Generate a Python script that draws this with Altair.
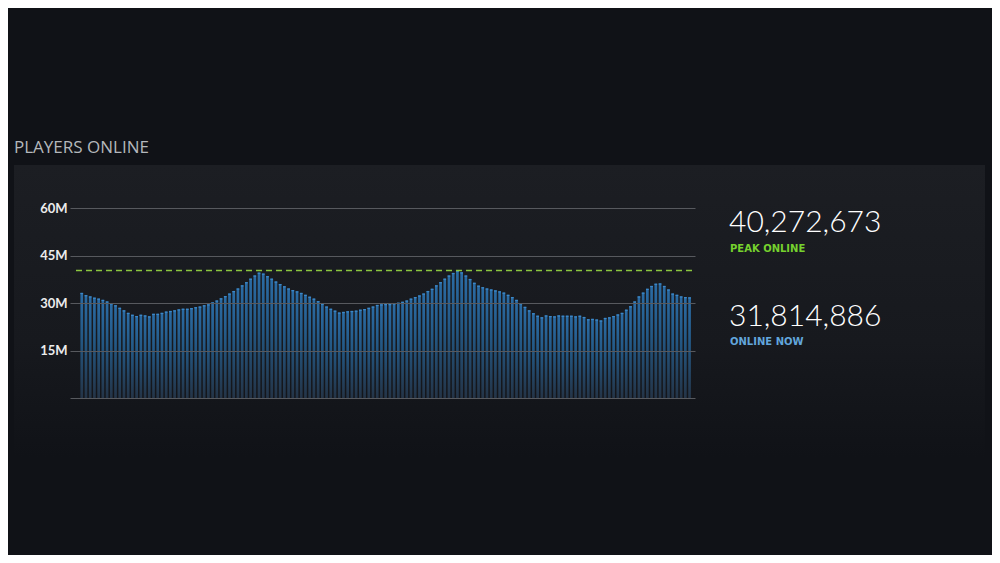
import altair as alt
import pandas as pd

# Players online, in millions, one bar per sample
players_m = [
    33.2, 32.5, 32.1, 31.7, 31.4, 31.0, 30.5, 29.9, 29.3, 28.5,
    27.7, 26.9, 26.3, 25.9, 26.3, 26.1, 25.8, 26.6, 26.6, 26.9,
    27.3, 27.5, 27.7, 28.0, 28.2, 28.2, 28.4, 28.7, 28.9, 29.3,
    29.6, 30.2, 30.8, 31.5, 32.2, 33.0, 33.8, 34.6, 35.6, 36.6,
    37.7, 38.7, 39.6, 39.3, 38.5, 37.7, 36.8, 36.0, 35.3, 34.6,
    34.1, 33.7, 33.2, 32.6, 32.0, 31.4, 30.6, 29.8, 28.9, 28.2,
    27.6, 27.0, 27.2, 27.4, 27.5, 27.6, 27.9, 28.1, 28.5, 28.9,
    29.4, 29.6, 29.7, 29.7, 29.9, 30.1, 30.4, 30.8, 31.4, 31.9,
    32.4, 33.0, 33.8, 34.5, 35.6, 36.6, 37.7, 38.7, 39.5, 40.2,
    39.7, 38.7, 37.6, 36.4, 35.5, 35.0, 34.6, 34.3, 34.0, 33.7,
    33.3, 32.6, 31.9, 31.0, 29.9, 28.8, 27.7, 26.8, 26.0, 25.5,
    26.1, 25.9, 25.8, 26.1, 26.0, 26.0, 26.0, 25.8, 26.0, 25.6,
    24.9, 25.0, 24.8, 24.5, 25.3, 25.5, 25.9, 26.4, 26.9, 27.9,
    29.0, 30.5, 32.1, 33.3, 34.5, 35.4, 36.1, 36.2, 35.4, 34.3,
    33.0, 32.6, 32.1, 31.9, 31.8,
]
peak_online = 40272673
online_now = 31814886
y_ticks = [0, 15, 30, 45, 60]
title_text = "PLAYERS ONLINE"
peak_label = "PEAK ONLINE"
now_label = "ONLINE NOW"

N = len(players_m)
df = pd.DataFrame({"i": list(range(N)), "players": players_m})

W, H = 625, 190
FONT = "Lato"
x_scale = alt.Scale(domain=[-1.6, N - 0.9], nice=False, zero=False)
y_scale = alt.Scale(domain=[0, 60], nice=False)

one = pd.DataFrame({"k": [0]})

panel = alt.Chart(one).mark_rect(
    color=alt.LinearGradient(
        gradient="linear", x1=0, y1=0, x2=0, y2=1,
        stops=[
            alt.GradientStop(color="#1c1e23", offset=0),
            alt.GradientStop(color="#17191e", offset=0.6),
            alt.GradientStop(color="#101217", offset=1),
        ],
    )
).encode(x=alt.value(-56), x2=alt.value(915), y=alt.value(-43), y2=alt.value(250))

bar_grad = alt.LinearGradient(
    gradient="linear", x1=0, y1=0, x2=0, y2=1,
    stops=[
        alt.GradientStop(color="#2b6ca5", offset=0),
        alt.GradientStop(color="#235783", offset=0.45),
        alt.GradientStop(color="#243447", offset=1),
    ],
)

bars = alt.Chart(df).mark_bar(width=2.7, color=bar_grad).encode(
    x=alt.X("i:Q", scale=x_scale, axis=None),
    y=alt.Y(
        "players:Q",
        scale=y_scale,
        axis=alt.Axis(
            values=y_ticks,
            labelExpr="datum.value == 0 ? '' : datum.value + 'M'",
            domain=False,
            ticks=False,
            grid=True,
            gridColor="#57595e",
            gridWidth=1,
            labelColor="#ececec",
            labelFont=FONT,
            labelFontSize=13,
            labelFontWeight="bold",
            labelPadding=3,
            title=None,
            zindex=1,
        ),
    ),
)

caps = alt.Chart(df).transform_calculate(
    cap_lo="datum.players - 0.4"
).mark_bar(width=2.7, color="#3c88c8").encode(
    x=alt.X("i:Q", scale=x_scale, axis=None),
    y=alt.Y("players:Q", scale=y_scale),
    y2="cap_lo:Q",
)

peak_line = alt.Chart(pd.DataFrame({"peak": [peak_online / 1e6]})).mark_rule(
    color="#8cc63f", strokeDash=[6, 4], strokeWidth=1.6
).encode(y=alt.Y("peak:Q", scale=y_scale), x=alt.value(6), x2=alt.value(622))

title = alt.Chart(one).mark_text(
    align="left", baseline="alphabetic", font="Open Sans", fontSize=17,
    color="#b4b8bc"
).encode(x=alt.value(-56), y=alt.value(-55), text=alt.value(title_text))

peak_num = alt.Chart(one).mark_text(
    align="left", baseline="alphabetic", font=FONT, fontSize=30,
    fontWeight=300, color="#ffffff"
).encode(x=alt.value(659), y=alt.value(24), text=alt.value(f"{peak_online:,}"))

peak_lab = alt.Chart(one).mark_text(
    align="left", baseline="alphabetic", font="DejaVu Sans", fontSize=10,
    fontWeight="bold", color="#76d22e"
).encode(x=alt.value(660), y=alt.value(44), text=alt.value(peak_label))

now_num = alt.Chart(one).mark_text(
    align="left", baseline="alphabetic", font=FONT, fontSize=30,
    fontWeight=300, color="#ffffff"
).encode(x=alt.value(659), y=alt.value(118), text=alt.value(f"{online_now:,}"))

now_lab = alt.Chart(one).mark_text(
    align="left", baseline="alphabetic", font="DejaVu Sans", fontSize=10,
    fontWeight="bold", color="#62a6dc"
).encode(x=alt.value(660), y=alt.value(137), text=alt.value(now_label))

chart = alt.layer(
    panel, bars, caps, peak_line, title, peak_num, peak_lab, now_num, now_lab
).properties(
    width=W,
    height=H,
    padding={"left": 62, "top": 200, "right": 297, "bottom": 157},
    autosize=alt.AutoSizeParams(type="none"),
    background="#101217",
).configure_view(stroke=None)

chart.save("out.html", embed_options={"renderer": "svg", "actions": False})
